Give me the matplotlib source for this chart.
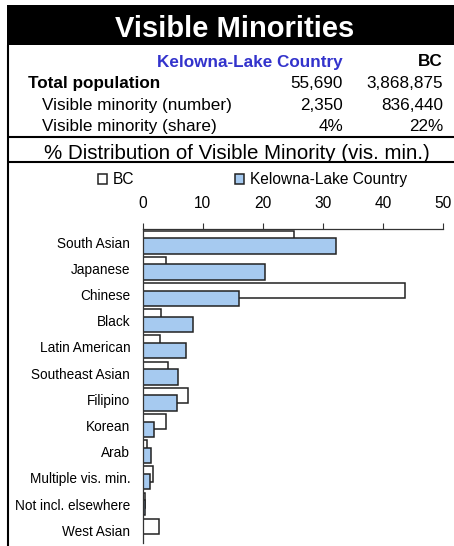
#imports
import matplotlib
matplotlib.use('Agg')
import matplotlib.pyplot as plt
from matplotlib.lines import Line2D
from matplotlib.patches import Rectangle
import numpy as np

plt.rcParams['font.family'] = ['Liberation Sans', 'DejaVu Sans']

#datos
categorias = ['South Asian', 'Japanese', 'Chinese', 'Black', 'Latin American',
              'Southeast Asian', 'Filipino', 'Korean', 'Arab', 'Multiple vis. min.',
              'Not incl. elsewhere', 'West Asian']
bc = [25.1, 3.9, 43.7, 3.0, 2.8, 4.2, 7.6, 3.8, 0.7, 1.7, 0.4, 2.7]
kelowna = [32.1, 20.4, 16.0, 8.3, 7.2, 5.9, 5.7, 1.9, 1.4, 1.2, 0.4, 0.0]

regiones = ['Kelowna-Lake Country', 'BC']
poblacion_total = [55690, 3868875]
vis_min_numero = [2350, 836440]
vis_min_share = [4, 22]
ticks_x = [0, 10, 20, 30, 40, 50]

W, H = 454, 546
fig = plt.figure(figsize=(W / 100, H / 100), dpi=100)

#pixeles a fraccion de figura
def fx(x):
    return x / W

def fy(y):
    return 1 - y / H

def linea(x0, y0, x1, y1, lw=1.5):
    fig.add_artist(Line2D([fx(x0), fx(x1)], [fy(y0), fy(y1)], transform=fig.transFigure,
                          color='black', lw=lw, solid_capstyle='butt'))

#encabezado
fig.add_artist(Rectangle((fx(7), fy(45)), fx(454) - fx(7), fy(5) - fy(45),
                         transform=fig.transFigure, facecolor='black', edgecolor='none'))
fig.text(fx(235), fy(37), 'Visible Minorities', color='white', fontsize=21,
         fontweight='bold', ha='center', va='baseline')

linea(7.5, 45, 7.5, 546)
linea(7, 137, 454, 137)
linea(7, 162, 454, 162)

ts = 12.3
col_x = [343, 443]
fig.text(fx(col_x[0]), fy(66.5), regiones[0], color='#3333CC', fontsize=ts,
         fontweight='bold', ha='right', va='baseline')
fig.text(fx(col_x[1]), fy(66.5), regiones[1], color='black', fontsize=ts,
         fontweight='bold', ha='right', va='baseline')

fig.text(fx(28), fy(88), 'Total population', fontsize=ts, fontweight='bold', va='baseline')
fig.text(fx(42), fy(110), 'Visible minority (number)', fontsize=ts, va='baseline')
fig.text(fx(42), fy(131), 'Visible minority (share)', fontsize=ts, va='baseline')
for i in range(2):
    fig.text(fx(col_x[i]), fy(88), '{:,}'.format(poblacion_total[i]), fontsize=ts,
             ha='right', va='baseline')
    fig.text(fx(col_x[i]), fy(110), '{:,}'.format(vis_min_numero[i]), fontsize=ts,
             ha='right', va='baseline')
    fig.text(fx(col_x[i]), fy(131), '{}%'.format(vis_min_share[i]), fontsize=ts,
             ha='right', va='baseline')

fig.text(fx(237), fy(158.5), '% Distribution of Visible Minority (vis. min.)',
         fontsize=14.8, ha='center', va='baseline')

#grafico de barras
ax = fig.add_axes([fx(142.7), fy(543.3), fx(443.3) - fx(142.7), fy(229) - fy(543.3)])
y = np.arange(len(categorias))
h = 0.585
d = 0.146
b1 = ax.barh(y - d, bc, height=h, color='white', edgecolor='#222222', linewidth=1.1, label='BC')
b2 = ax.barh(y + d, kelowna, height=h, color='#A6CAF0', edgecolor='#222222', linewidth=1.1,
             label='Kelowna-Lake Country')

ax.set_xlim(0, 50)
ax.set_ylim(11.5, -0.5)
ax.set_yticks(y)
ax.set_yticklabels(categorias, fontsize=9.8)
ax.set_xticks(ticks_x)
ax.xaxis.tick_top()
ax.tick_params(axis='x', direction='out', length=4.3, width=0.8, color='#333333',
               labelsize=11.2, pad=9)
ax.tick_params(axis='y', length=0, pad=9)
for s in ['right', 'bottom']:
    ax.spines[s].set_visible(False)
for s in ['left', 'top']:
    ax.spines[s].set_color('#333333')
    ax.spines[s].set_linewidth(0.9)

ax.legend(handles=[b1, b2], loc='center left', bbox_to_anchor=(fx(97.5), fy(180)),
          bbox_transform=fig.transFigure, ncol=2, frameon=False, fontsize=11.2,
          borderpad=0, borderaxespad=0, handlelength=0.6, handleheight=0.6,
          handletextpad=0.35, columnspacing=6.5)

fig.savefig('out.png', dpi=100)
